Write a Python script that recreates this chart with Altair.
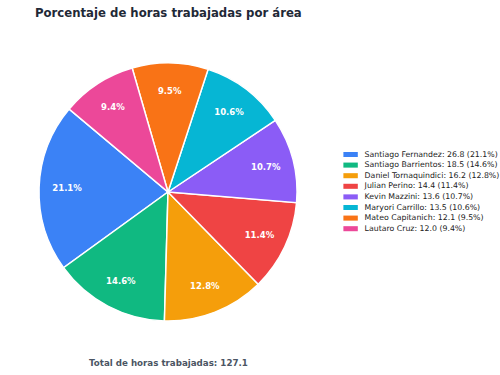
import math
import altair as alt
import pandas as pd

# Hours worked per person
nombres = [
    "Santiago Fernandez",
    "Santiago Barrientos",
    "Daniel Tornaquindici",
    "Julian Perino",
    "Kevin Mazzini",
    "Maryori Carrillo",
    "Mateo Capitanich",
    "Lautaro Cruz",
]
horas = [26.82, 18.52, 16.23, 14.44, 13.58, 13.48, 12.08, 11.96]
colores = ["#3b82f6", "#10b981", "#f59e0b", "#ef4444",
           "#8b5cf6", "#06b6d4", "#f97316", "#ec4899"]

total = sum(horas)
porcentajes = [h / total * 100 for h in horas]
etiquetas = [f"{n}: {h:.1f} ({p:.1f}%)" for n, h, p in zip(nombres, horas, porcentajes)]

# Slices run counter-clockwise from 140°, so the clockwise drawing order is reversed
orden = [len(nombres) - 1 - i for i in range(len(nombres))]
inicio = math.radians(90 - 140)

df = pd.DataFrame({
    "nombre": nombres,
    "horas": horas,
    "etiqueta": etiquetas,
    "pct": [f"{p:.1f}%" for p in porcentajes],
    "orden": orden,
})

cx, cy = 168, 192

base = alt.Chart(df).encode(
    theta=alt.Theta("horas:Q", stack=True,
                    scale=alt.Scale(range=[inicio, inicio + 2 * math.pi])),
    order=alt.Order("orden:Q", sort="ascending"),
    x=alt.value(cx),
    y=alt.value(cy),
)

pastel = base.mark_arc(outerRadius=129, stroke="white", strokeWidth=1.5).encode(
    color=alt.Color(
        "etiqueta:N",
        scale=alt.Scale(domain=etiquetas, range=colores),
        legend=alt.Legend(
            title=None,
            orient="none",
            legendX=346.6,
            legendY=150.5,
            padding=0,
            symbolType="M-2,-0.7H2V0.7H-2Z",
            symbolSize=52,
            symbolStrokeWidth=0,
            symbolOpacity=1,
            labelFont="DejaVu Sans",
            labelFontSize=7.8,
            labelColor="#222222",
            labelOffset=10,
            labelLimit=300,
            rowPadding=2.6,
        ),
    )
)

textos = base.mark_text(
    radius=101, font="DejaVu Sans", fontSize=8.5, fontWeight="bold", color="white"
).encode(text="pct:N")

titulo = alt.Chart(pd.DataFrame({"t": ["Porcentaje de horas trabajadas por área"]})).mark_text(
    align="left", baseline="alphabetic", font="DejaVu Sans", fontSize=11.7,
    fontWeight="bold", color="#1f2937"
).encode(text="t:N", x=alt.value(35), y=alt.value(16.5))

pie = alt.Chart(pd.DataFrame({"t": [f"Total de horas trabajadas: {total:.1f}"]})).mark_text(
    align="left", baseline="alphabetic", font="DejaVu Sans", fontSize=8.7,
    fontWeight="bold", color="#4b5563"
).encode(text="t:N", x=alt.value(89), y=alt.value(366))

chart = alt.layer(pastel, textos, titulo, pie).properties(
    width=500,
    height=375,
    padding=0,
    autosize=alt.AutoSizeParams(type="none"),
    background="white",
).configure_view(stroke=None)

chart.save("out.html", embed_options={"renderer": "svg", "actions": False})
